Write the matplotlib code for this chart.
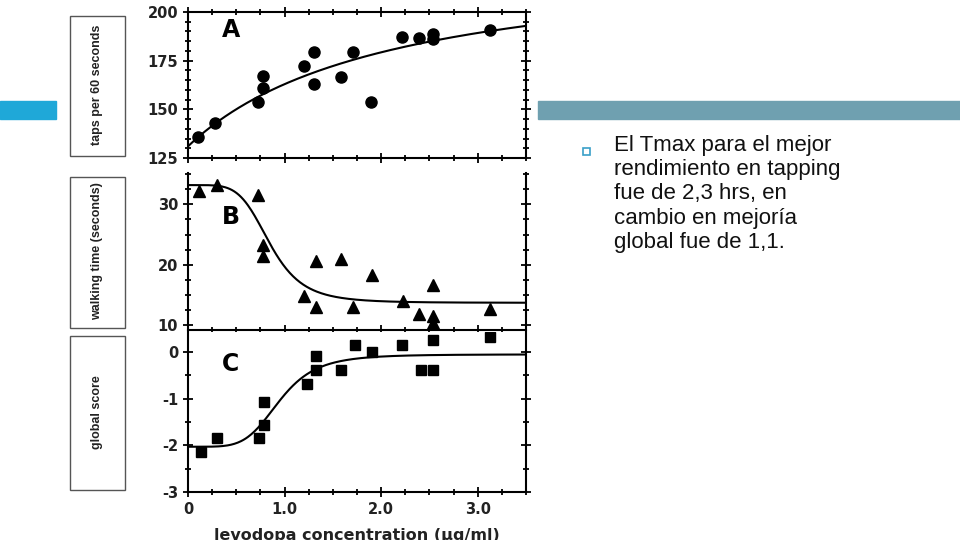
import numpy as np
import matplotlib
matplotlib.use("Agg")
import matplotlib.pyplot as plt
from matplotlib.patches import Rectangle
from matplotlib.ticker import MultipleLocator

# Data
xa = [0.10,0.28,0.72,0.78,0.78,1.20,1.30,1.30,1.58,1.71,1.90,2.22,2.39,2.54,2.54,3.13]
ya = [135.6,142.9,154,167.2,160.8,172.3,179.2,163,166.4,179.2,154,187.2,186.4,188.6,186,190.6]
xb = [0.11,0.30,0.73,0.78,0.78,1.20,1.33,1.33,1.58,1.71,1.91,2.23,2.39,2.54,2.54,2.54,3.13]
yb = [32.3,33.2,31.5,23.2,21.4,14.9,20.6,13.0,21.0,13.0,18.3,14.0,11.9,16.6,11.5,10.3,12.7]
xc = [0.13,0.30,0.74,0.79,0.79,1.23,1.33,1.33,1.58,1.73,1.91,2.22,2.41,2.54,2.54,3.13]
yc = [-2.14,-1.85,-1.85,-1.06,-1.56,-0.69,-0.09,-0.38,-0.38,0.15,0.0,0.15,-0.38,0.26,-0.38,0.33]
# fitted model parameters (E0, Emax, EC50, hill)
fit_a = (131, 99, 2.1, 1)
fit_b = (33.2, -19.5, 0.85, 5)
fit_c = (-2.03, 1.98, 0.95, 5)

def emax(x, p):
    e0, em, ec, n = p
    return e0 + em * x**n / (x**n + ec**n)

fig = plt.figure(figsize=(9.6, 5.4), dpi=100)
W, H = 960, 540
def ax_at(l, t, r, b):
    return fig.add_axes([l/W, 1-b/H, (r-l)/W, (b-t)/H])

fig.patches.append(Rectangle((0, 1-119/H), 56/W, 18/H, transform=fig.transFigure, color="#1fa8d8"))
fig.patches.append(Rectangle((538/W, 1-119/H), 422/W, 18/H, transform=fig.transFigure, color="#6fa0b0"))
fig.patches.append(Rectangle((583/W, 1-155/H), 7/W, 7/H, transform=fig.transFigure, fill=False, ec="#3aa0c8", lw=1.2))
fig.text(614/W, 1-135/H, "El Tmax para el mejor\nrendimiento en tapping\nfue de 2,3 hrs, en\ncambio en mejoría\nglobal fue de 1,1.",
         fontsize=16, family="Liberation Sans", va="top", ha="left", linespacing=1.2, color="#111")

xs = np.linspace(0, 3.5, 300)
panels = [
    ((12, 158), xa, ya, fit_a, "o", (125, 200), 25, 5, "A", "taps per 60 seconds", [125,150,175,200], 8),
    ((173, 330), xb, yb, fit_b, "^", (9.2, 35.2), 10, 2.5, "B", "walking time (seconds)", [10,20,30], 9),
    ((332, 492), xc, yc, fit_c, "s", (-3, 0.43), 1, 0.5, "C", "global score", [-3,-2,-1,0], 7),
]
for i, ((t, b), x, y, p, m, yl, maj, mnr, lab, ylab, yt, ms) in enumerate(panels):
    ax = ax_at(188, t, 526, b)
    ax.plot(xs, emax(xs, p), color="black", lw=1.5)
    ax.plot(x, y, m, color="black", ms=ms, ls="none")
    ax.set_xlim(0, 3.5)
    ax.set_ylim(*yl)
    ax.set_yticks(yt)
    ax.yaxis.set_minor_locator(MultipleLocator(mnr))
    ax.xaxis.set_major_locator(MultipleLocator(1.0))
    ax.xaxis.set_minor_locator(MultipleLocator(0.25))
    ax.tick_params(which="both", direction="inout", right=True, top=(i == 0), length=7, width=1.3)
    ax.tick_params(which="minor", length=4)
    for s in ax.spines.values():
        s.set_linewidth(1.5)
    ax.spines["top"].set_visible(i == 0)
    ax.set_yticklabels([str(v) for v in yt], fontweight="bold", fontsize=10.5, color="#222")
    if i < 2:
        ax.set_xticklabels([])
    else:
        ax.set_xticks([0, 1, 2, 3])
        ax.set_xticklabels(["0", "1.0", "2.0", "3.0"], fontweight="bold", fontsize=10.5, color="#222")
        ax.set_xlabel("levodopa concentration (µg/ml)", fontweight="bold", fontsize=11.5, color="#222", labelpad=8)
    ax.text(0.1, 0.88 if i == 0 else (0.72 if i == 1 else 0.8), lab, transform=ax.transAxes,
            fontsize=17, fontweight="bold", va="center")
    # ylabel boxes
    fig.patches.append(Rectangle((70/W, 1-(b-2)/H), 55/W, (b-t-6)/H, transform=fig.transFigure,
                                 fill=False, ec="#555", lw=1))
    fig.text(97/W, 1-((t+b)/2)/H, ylab, rotation=90, ha="center", va="center",
             fontsize=9, fontweight="bold", family="Liberation Sans", fontstretch="condensed", color="#222")

fig.savefig("out.png", dpi=100)
